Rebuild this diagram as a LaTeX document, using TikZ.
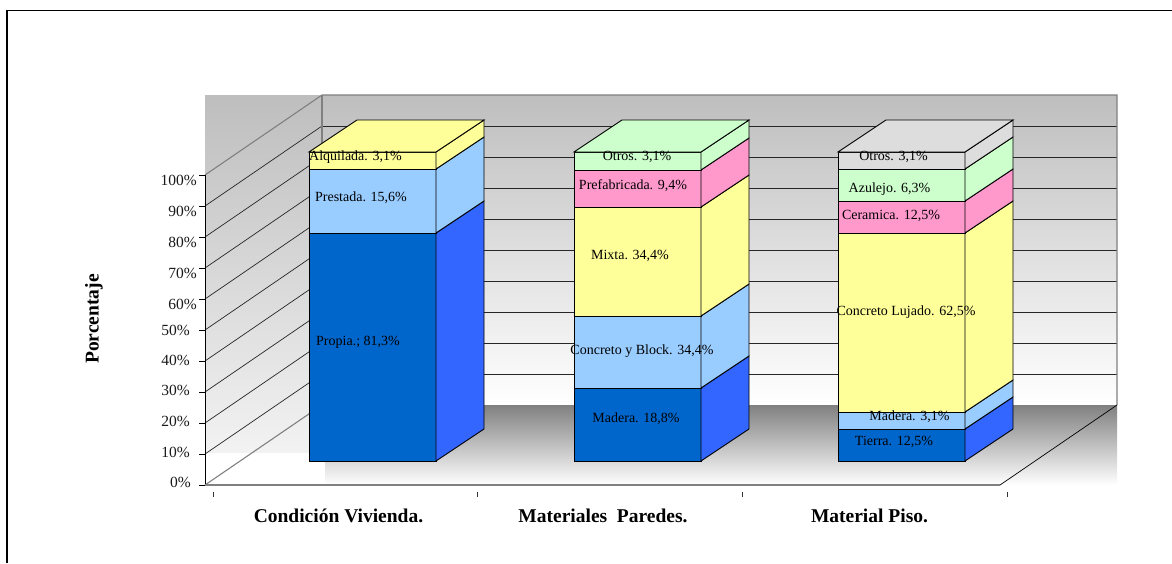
\documentclass[tikz,border=0pt]{standalone}
\usepackage{fontspec}
\setmainfont{Liberation Serif}
\begin{document}
\definecolor{deepblue}{HTML}{0066CC}
\definecolor{sideblue}{HTML}{3366FF}
\definecolor{skyblue}{HTML}{99CCFF}
\definecolor{paleyellow}{HTML}{FFFF99}
\definecolor{rosepink}{HTML}{FF99CC}
\definecolor{mintgreen}{HTML}{CCFFCC}
\definecolor{softgray}{HTML}{DDDDDD}
\definecolor{wallgray}{HTML}{BEBEBE}
\definecolor{wallmid}{HTML}{E6E6E6}
\definecolor{edgegray}{HTML}{808080}
\tikzset{
  barline/.style={draw=black, line width=0.9pt},
  gridline/.style={draw=black!85, line width=0.7pt},
  edgeline/.style={draw=edgegray, line width=1.1pt},
  seglabel/.style={font=\fontsize{14}{16}\selectfont, inner sep=0pt, text=black},
  ticklabel/.style={font=\fontsize{15.5}{17}\selectfont, inner sep=0pt, anchor=east, text=black!90},
  catlabel/.style={font=\bfseries\fontsize{19.5}{22}\selectfont, inner sep=0pt},
}
% one stacked segment: left x, bottom y, top y, front colour, side colour
\newcommand\stackseg[5]{%
  \filldraw[barline, fill=#4] (#1,#2) rectangle (#1+127,#3);
  \filldraw[barline, fill=#5] (#1+127,#2) -- (#1+175,#2-32) -- (#1+175,#3-32) -- (#1+127,#3) -- cycle;}
% lid of a stacked bar: left x, top y, colour
\newcommand\stacklid[3]{%
  \filldraw[barline, fill=#3] (#1,#2) -- (#1+48,#2-32) -- (#1+175,#2-32) -- (#1+127,#2) -- cycle;}
\begin{tikzpicture}[x=1pt, y=-1pt]
\useasboundingbox (0,0) rectangle (1172,563);

% walls and floor
\shade[top color=wallgray, bottom color=white!95!black] (205,95) rectangle (322,452);
\shade[top color=wallgray, middle color=wallmid, bottom color=white] (322,95) rectangle (1117,405);
\shade[top color=edgegray, middle color=black!18, bottom color=white] (325,405) rectangle (1117,485);

% gridlines on back and side wall
\foreach \k in {1,...,9} {
  \draw[gridline] (322,405-31*\k) -- (1117,405-31*\k);
  \draw[gridline] (205,485-31*\k) -- (322,405-31*\k);
}
% wall edges
\draw[edgeline] (205,175) -- (322,95) -- (1117,95) -- (1117,405);
\draw[edgeline] (322,95) -- (322,405);
\draw[edgeline] (205,485) -- (322,405);
\draw[black, line width=0.7pt] (1117,405) -- (1000,485);

% bar 1
\stackseg{309}{461}{233}{deepblue}{sideblue}
\stackseg{309}{233}{169}{skyblue}{skyblue}
\stackseg{309}{169}{152}{paleyellow}{paleyellow}
\stacklid{309}{152}{paleyellow}

% bar 2
\stackseg{574}{461}{388}{deepblue}{sideblue}
\stackseg{574}{388}{316}{skyblue}{skyblue}
\stackseg{574}{316}{207}{paleyellow}{paleyellow}
\stackseg{574}{207}{170}{rosepink}{rosepink}
\stackseg{574}{170}{152}{mintgreen}{mintgreen}
\stacklid{574}{152}{mintgreen}

% bar 3
\stackseg{838}{461}{429}{deepblue}{sideblue}
\stackseg{838}{429}{412}{skyblue}{skyblue}
\stackseg{838}{412}{233}{paleyellow}{paleyellow}
\stackseg{838}{233}{201}{rosepink}{rosepink}
\stackseg{838}{201}{169}{mintgreen}{mintgreen}
\stackseg{838}{169}{152}{softgray}{softgray}
\stacklid{838}{152}{softgray}

% segment labels
\node[seglabel] (alq) at (355.5,157) {Alquilada. 3,1\%};
\node[seglabel] (pre) at (361,198) {Prestada. 15,6\%};
\node[seglabel] (pro) at (358,342.5) {Propia.; 81,3\%};

\node[seglabel] (otw) at (637,157) {Otros. 3,1\%};
\node[seglabel] (pfb) at (633,186) {Prefabricada. 9,4\%};
\node[seglabel] (mix) at (630,256) {Mixta. 34,4\%};
\node[seglabel] (cyb) at (642,351) {Concreto y Block. 34,4\%};
\node[seglabel] (mdw) at (636,419) {Madera. 18,8\%};

\node[seglabel] (otp) at (893.5,157) {Otros. 3,1\%};
\node[seglabel] (azu) at (889.5,189) {Azulejo. 6,3\%};
\node[seglabel] (cer) at (891,216) {Ceramica. 12,5\%};
\node[seglabel] (clu) at (906,312) {Concreto Lujado. 62,5\%};
\node[seglabel] (mdp) at (909.5,416.5) {Madera. 3,1\%};
\node[seglabel] (tie) at (894,442) {Tierra. 12,5\%};

% value axis
\draw[black, line width=0.8pt] (205,175) -- (205,485);
\foreach \k in {0,...,10}
  \draw[black, line width=0.8pt] (199,485-31*\k) -- (205,485-31*\k);
\node[ticklabel] (t100) at (197,180) {100\%};
\node[ticklabel] (t90) at (197,211) {90\%};
\node[ticklabel] (t80) at (197,242) {80\%};
\node[ticklabel] (t70) at (197,273) {70\%};
\node[ticklabel] (t60) at (197,304) {60\%};
\node[ticklabel] (t50) at (190,330) {50\%};
\node[ticklabel] (t40) at (190,360) {40\%};
\node[ticklabel] (t30) at (190,390) {30\%};
\node[ticklabel] (t20) at (190,421) {20\%};
\node[ticklabel] (t10) at (190,452) {10\%};
\node[ticklabel] (t0) at (191,482) {0\%};
\node[catlabel, rotate=90] (ylab) at (94,319) {Porcentaje};

% category axis
\draw[edgeline, line width=1.5pt] (205,485) -- (1000,485);
\foreach \x in {213,477,742,1007}
  \draw[black!80, line width=0.7pt] (\x,492) -- (\x,497);
\node[catlabel] (c1) at (338.5,516) {Condición Vivienda.};
\node[catlabel] (c2) at (603,516) {Materiales\ \ Paredes.};
\node[catlabel] (c3) at (869.5,516) {Material Piso.};

% outer frame
\draw[black, line width=1.4pt] (7,563) -- (7,10.7) -- (1172,10.7);
\end{tikzpicture}
\end{document}
